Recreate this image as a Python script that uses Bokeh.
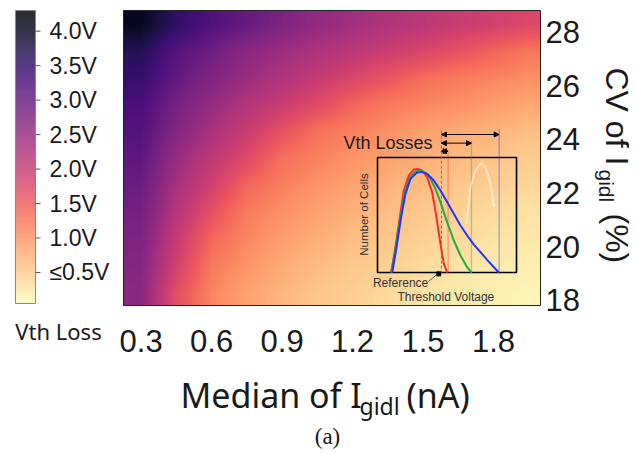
import numpy as np
from bokeh.plotting import figure
from bokeh.models import Range1d, LinearColorMapper, Label, Arrow, NormalHead
from bokeh.core.properties import value
from bokeh.palettes import Magma256
from bokeh.embed import file_html
from bokeh.resources import INLINE

# ---------------- data ----------------
# heat-map cell centres
median_centers = [0.30, 0.45, 0.60, 0.75, 0.90, 1.05, 1.20, 1.35, 1.50, 1.65, 1.80, 1.95]
cv_centers = [18.3, 19.3, 20.3, 21.3, 22.3, 23.3, 24.3, 25.3, 26.3, 27.3, 28.3]
# Vth loss (V), one list per CV row
loss_cv18 = [2.62, 1.68, 1.13, 0.87, 0.70, 0.56, 0.47, 0.38, 0.29, 0.22, 0.17, 0.13]
loss_cv19 = [2.68, 1.89, 1.24, 0.99, 0.80, 0.65, 0.54, 0.46, 0.37, 0.29, 0.23, 0.18]
loss_cv20 = [2.76, 2.01, 1.41, 1.12, 0.91, 0.77, 0.63, 0.54, 0.45, 0.37, 0.29, 0.25]
loss_cv21 = [2.85, 2.16, 1.65, 1.21, 1.04, 0.87, 0.75, 0.62, 0.53, 0.45, 0.37, 0.29]
loss_cv22 = [2.95, 2.33, 1.89, 1.43, 1.18, 1.01, 0.86, 0.74, 0.63, 0.54, 0.47, 0.40]
loss_cv23 = [3.08, 2.48, 2.08, 1.75, 1.32, 1.16, 1.01, 0.88, 0.77, 0.66, 0.57, 0.50]
loss_cv24 = [3.20, 2.68, 2.31, 1.97, 1.64, 1.31, 1.17, 1.03, 0.89, 0.81, 0.72, 0.62]
loss_cv25 = [3.30, 2.83, 2.50, 2.21, 1.97, 1.72, 1.43, 1.24, 1.13, 1.03, 0.92, 0.83]
loss_cv26 = [3.48, 3.03, 2.72, 2.46, 2.24, 2.02, 1.81, 1.58, 1.36, 1.23, 1.14, 1.05]
loss_cv27 = [3.68, 3.18, 2.91, 2.63, 2.44, 2.27, 2.11, 1.96, 1.81, 1.64, 1.45, 1.27]
loss_cv28 = [4.05, 3.56, 3.23, 3.00, 2.76, 2.54, 2.39, 2.24, 2.12, 2.00, 1.89, 1.78]

x_ticks = [0.3, 0.6, 0.9, 1.2, 1.5, 1.8]
y_ticks = [18, 20, 22, 24, 26, 28]
cbar_ticks = [0.5, 1.0, 1.5, 2.0, 2.5, 3.0, 3.5, 4.0]
vth_min, vth_max = 0.05, 4.3
median_lim = (0.225, 2.0)
cv_lim = (17.8, 28.8)

# inset sketch: normalised threshold voltage (u) vs normalised number of cells (v)
red_u = [0.098, 0.129, 0.161, 0.189, 0.225, 0.261, 0.290, 0.321, 0.357, 0.393, 0.424, 0.453, 0.477, 0.501]
red_v = [0.0, 0.220, 0.481, 0.713, 0.843, 0.896, 0.901, 0.887, 0.829, 0.699, 0.481, 0.249, 0.075, 0.0]
green_u = [0.101, 0.132, 0.165, 0.197, 0.233, 0.273, 0.309, 0.345, 0.381, 0.417, 0.453, 0.501, 0.549, 0.597, 0.645, 0.676]
green_v = [0.0, 0.220, 0.481, 0.699, 0.829, 0.881, 0.884, 0.867, 0.814, 0.728, 0.612, 0.438, 0.278, 0.148, 0.046, 0.0]
blue_u = [0.106, 0.137, 0.170, 0.201, 0.237, 0.281, 0.317, 0.357, 0.405, 0.453, 0.501, 0.549, 0.597, 0.645, 0.693, 0.741, 0.789, 0.837, 0.873]
blue_v = [0.0, 0.220, 0.481, 0.684, 0.814, 0.867, 0.875, 0.858, 0.800, 0.713, 0.612, 0.510, 0.409, 0.322, 0.243, 0.177, 0.110, 0.046, 0.0]
white_u = [0.640, 0.669, 0.705, 0.741, 0.777, 0.813, 0.837]
white_v = [0.423, 0.742, 0.887, 0.951, 0.916, 0.771, 0.568]
ref_u = 0.460
loss_u = [0.508, 0.676, 0.875]          # red, green, blue end of distribution
loss_top = [1.046, 1.148, 1.249]
arrow_v = [1.055, 1.125, 1.200]
loss_colors = ["#ff2a2a", "#22aa44", "#2233ff"]

# ---------------- layout constants (page pixels) ----------------
W, H = 635, 453
FR_L, FR_R, FR_T, FR_B = 123, 540, 10, 305          # heat-map area
CB_L, CB_R, CB_T, CB_B = 15, 35, 10, 303             # colour-bar area
BOX_L, BOX_R, BOX_T, BOX_B = 377, 516, 157, 272       # inset box

palette = list(reversed(Magma256))
mapper = LinearColorMapper(palette=palette, low=vth_min, high=vth_max)

LABEL_FONT = "Noto Sans"
TICK_FONT = "Liberation Sans"
TXT = "#1a1a1a"


def lin_range(pa, va, pb, vb, p_lo, p_hi):
    """Range whose ends sit at page pixels p_lo / p_hi, with pa->va and pb->vb."""
    k = (vb - va) / (pb - pa)
    return Range1d(va + (p_lo - pa) * k, va + (p_hi - pa) * k)


# one figure whose frame is the whole page; page-pixel default ranges
p = figure(width=W, height=H, x_range=Range1d(0, W), y_range=Range1d(H, 0),
           x_axis_location=None, y_axis_location=None, output_backend="svg",
           toolbar_location=None, min_border=0)
p.grid.visible = False
p.outline_line_color = None

p.extra_x_ranges = {
    "med": lin_range(FR_L, median_lim[0], FR_R, median_lim[1], 0, W),
    "cbx": lin_range(CB_L, 0.0, CB_R, 1.0, 0, W),
    "ix": lin_range(BOX_L, 0.0, BOX_R, 1.0, 0, W),
}
p.extra_y_ranges = {
    "cv": lin_range(FR_B, cv_lim[0], FR_T, cv_lim[1], H, 0),
    "cbv": lin_range(CB_B, vth_min, CB_T, vth_max, H, 0),
    "iy": lin_range(BOX_B, 0.0, BOX_T, 1.0, H, 0),
}
HM = dict(x_range_name="med", y_range_name="cv")
CB = dict(x_range_name="cbx", y_range_name="cbv")
IR = dict(x_range_name="ix", y_range_name="iy")


def put(x, y, text, size, angle=0.0, align="left", font=LABEL_FONT, color=TXT, **rn):
    p.text(x=x, y=y, text=text, angle=angle, text_align=align,
           text_baseline="middle", text_font=value(font),
           text_font_size=size, text_color=color, **rn)


# ---------------- heat map ----------------
grid = np.array([loss_cv18, loss_cv19, loss_cv20, loss_cv21, loss_cv22, loss_cv23,
                 loss_cv24, loss_cv25, loss_cv26, loss_cv27, loss_cv28])
x0, x1 = median_lim
y0, y1 = cv_lim
# smooth display of the read grid (bilinear shading between cell centres)
nx, ny = FR_R - FR_L, FR_B - FR_T
xs = x0 + (np.arange(nx) + 0.5) * (x1 - x0) / nx
ys = y0 + (np.arange(ny) + 0.5) * (y1 - y0) / ny
rows_x = np.array([np.interp(xs, median_centers, r) for r in grid])
shade = np.array([np.interp(ys, cv_centers, rows_x[:, j]) for j in range(nx)]).T
p.image(image=[shade], x=x0, y=y0, dw=x1 - x0, dh=y1 - y0, color_mapper=mapper, **HM)
p.quad(left=[x0], right=[x1], bottom=[y0], top=[y1], fill_color=None,
       line_color="#222222", line_width=1, **HM)

# axes: tick labels placed through the heat-map scales
put(x_ticks, [340] * len(x_ticks), [f"{t:.1f}" for t in x_ticks], "31px",
    align="center", font=TICK_FONT, x_range_name="med")
put([545] * len(y_ticks), y_ticks, [f"{t:d}" for t in y_ticks], "31px",
    font=TICK_FONT, y_range_name="cv")

# axis titles (pieces, for the subscript)
ROT = -np.pi / 2
put([616.5], [67], ["CV of I"], "32px", angle=ROT, font=TICK_FONT)
put([605.5], [169], ["gidl"], "21px", angle=ROT, font=TICK_FONT)
put([616.5], [213], ["(%)"], "32px", angle=ROT, font=TICK_FONT)
put([180], [394], ["Median of I"], "34px")
put([359], [405], ["gidl"], "23px")
put([406], [394], ["(nA)"], "34px")
put([327], [436], ["(a)"], "23px", align="center", font="Liberation Serif")

# ---------------- colour bar ----------------
ramp = np.linspace(vth_min, vth_max, 256).reshape(-1, 1)
p.image(image=[ramp], x=0, y=vth_min, dw=1, dh=vth_max - vth_min,
        color_mapper=mapper, global_alpha=0.82, **CB)
p.quad(left=[0], right=[1], bottom=[vth_min], top=[vth_max], fill_color=None,
       line_color="#888888", line_width=1, **CB)
p.segment(x0=[1.0] * len(cbar_ticks), x1=[1.25] * len(cbar_ticks), y0=cbar_ticks,
          y1=cbar_ticks, line_color="#555555", line_width=1, **CB)
put([49] * len(cbar_ticks), cbar_ticks,
    [("\u2264" if t <= 0.5 else "") + f"{t:.1f}V" for t in cbar_ticks], "23px",
    font=TICK_FONT, y_range_name="cbv")
put([58], [330], ["Vth Loss"], "22px", align="center")

# ---------------- inset ----------------
p.quad(left=[0], right=[1], bottom=[0], top=[1], fill_color=None,
       line_color="black", line_width=1.6, **IR)
p.segment(x0=[ref_u], y0=[-0.01], x1=[ref_u], y1=[1.235], line_color="#777777",
          line_width=1, line_dash="3 2", **IR)
for u, top, col in zip(loss_u, loss_top, loss_colors):
    p.segment(x0=[u], y0=[0], x1=[u], y1=[top], line_color=col, line_width=1.3,
              line_dash="1 1", line_alpha=0.8, **IR)

p.line(white_u, white_v, line_color="white", line_width=2, line_alpha=0.5, **IR)
p.line(red_u, red_v, line_color=loss_colors[0], line_width=2, line_join="round", **IR)
p.line(green_u, green_v, line_color=loss_colors[1], line_width=2, line_join="round", **IR)
p.line(blue_u, blue_v, line_color=loss_colors[2], line_width=2, line_join="round", **IR)

for u, v in zip(loss_u, arrow_v):
    p.add_layout(Arrow(start=NormalHead(size=5, fill_color="black", line_color="black"),
                       end=NormalHead(size=5, fill_color="black", line_color="black"),
                       x_start=ref_u, y_start=v, x_end=u, y_end=v,
                       line_color="black", line_width=1, **IR))

p.scatter(x=[ref_u - 0.02], y=[-0.012], marker="square", size=4, color="black", **IR)
p.line([0.367, 0.43], [-0.078, -0.015], line_color="#555555", line_width=1, **IR)


def ilab(u, v, text, size, align="center", angle=0.0, color="#333333"):
    p.add_layout(Label(x=u, y=v, text=text, angle=angle, text_align=align,
                       text_baseline="middle", text_font=TICK_FONT,
                       text_font_size=size, text_color=color, **IR))


ilab(0.396, 1.13, "Vth Losses", "18px", align="right", color="#1a1a1a")
ilab(-0.094, 0.504, "Number of Cells", "11.5px", angle=np.pi / 2)
ilab(0.166, -0.087, "Reference", "12px")
ilab(0.504, -0.209, "Threshold  Voltage", "12px")

open("out.html", "w").write(file_html(p, INLINE))
